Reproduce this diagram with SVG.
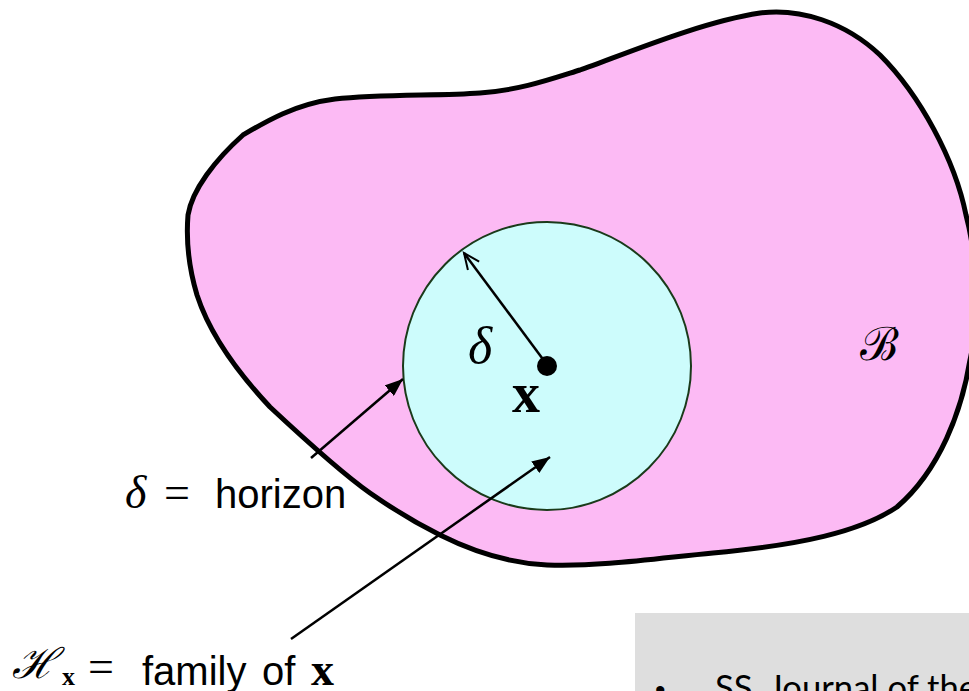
<svg xmlns="http://www.w3.org/2000/svg" width="969" height="691" viewBox="0 0 969 691">
<style>
.serif{font-family:"Liberation Serif","DejaVu Serif",serif;fill:#000}
.it{font-style:italic}
.bold{font-weight:bold}
.sans{font-family:"Liberation Sans","DejaVu Sans",sans-serif;fill:#000}
.arrow{stroke:#000;stroke-width:2.5;fill:none}
</style>
<defs>
<marker id="filled" markerUnits="userSpaceOnUse" markerWidth="20" markerHeight="14" refX="18" refY="7" orient="auto">
<path d="M0,0 L18,7 L0,14 Z" fill="#000"/>
</marker>
<marker id="open" markerUnits="userSpaceOnUse" markerWidth="20" markerHeight="16" refX="17" refY="8" orient="auto">
<path d="M1,1 L17,8 L1,15" fill="none" stroke="#000" stroke-width="2"/>
</marker>
</defs>
<rect width="969" height="691" fill="#fff"/>
<g id="body">
<path d="M 243,135 C 265,122 295,104 335,99 C 380,94 440,96 480,93 C 520,90 548,80 580,70 C 620,56 700,22 760,13 C 800,8 845,22 880,55 C 920,95 955,160 966,215 C 978,260 979,320 970,360 C 962,410 940,470 897,507 C 860,532 800,545 713,553 C 660,558 600,567 547,565 C 505,563 470,550 440,535 C 410,520 390,507 370,493 C 340,472 300,435 270,407 C 240,375 210,335 197,295 C 188,265 186,240 188,215 C 192,190 215,160 243,135 Z" fill="#fcbaf4" stroke="#000" stroke-width="5" stroke-linejoin="round"/>
<text class="serif" x="860" y="360" font-size="46">ℬ</text>
</g>
<g id="family">
<circle cx="547" cy="366" r="144" fill="#cdfcfc" stroke="#1a3a1a" stroke-width="2"/>
</g>
<g id="point">
<circle cx="547" cy="366" r="10" fill="#000"/>
<text class="serif it" x="468" y="363" font-size="52">δ</text>
<text class="serif bold" x="512" y="412" font-size="56">x</text>
</g>
<g id="connectors">
<line class="arrow" x1="545" y1="362" x2="464" y2="253" marker-end="url(#open)"/>
<line class="arrow" x1="311" y1="458" x2="403" y2="379" marker-end="url(#filled)"/>
<line class="arrow" x1="291" y1="639" x2="550" y2="457" marker-end="url(#filled)"/>
</g>
<g id="label-horizon">
<text class="serif it" x="125" y="508" font-size="46">δ</text>
<text class="serif" x="164" y="508" font-size="46">=</text>
<text class="sans" x="215" y="508" font-size="40">horizon</text>
</g>
<g id="label-family">
<text class="serif it" x="12" y="678" font-size="42">ℋ</text>
<text class="serif bold" x="62" y="685" font-size="26">x</text>
<text class="serif" x="88" y="682" font-size="46">=</text>
<text class="sans" x="142" y="685" font-size="40">family</text>
<text class="sans" x="262" y="685" font-size="40">of</text>
<text class="serif bold" x="311" y="685" font-size="46">x</text>
</g>
<g id="reference-box">
<rect x="635" y="613" width="334" height="78" fill="#dedede"/>
<text class="sans" x="655" y="700" font-size="30">•</text>
<text x="715" y="700" font-size="34" font-family="Lato,'Liberation Sans',sans-serif" fill="#000" textLength="262" lengthAdjust="spacingAndGlyphs">SS, Journal of the</text>
</g>
</svg>
